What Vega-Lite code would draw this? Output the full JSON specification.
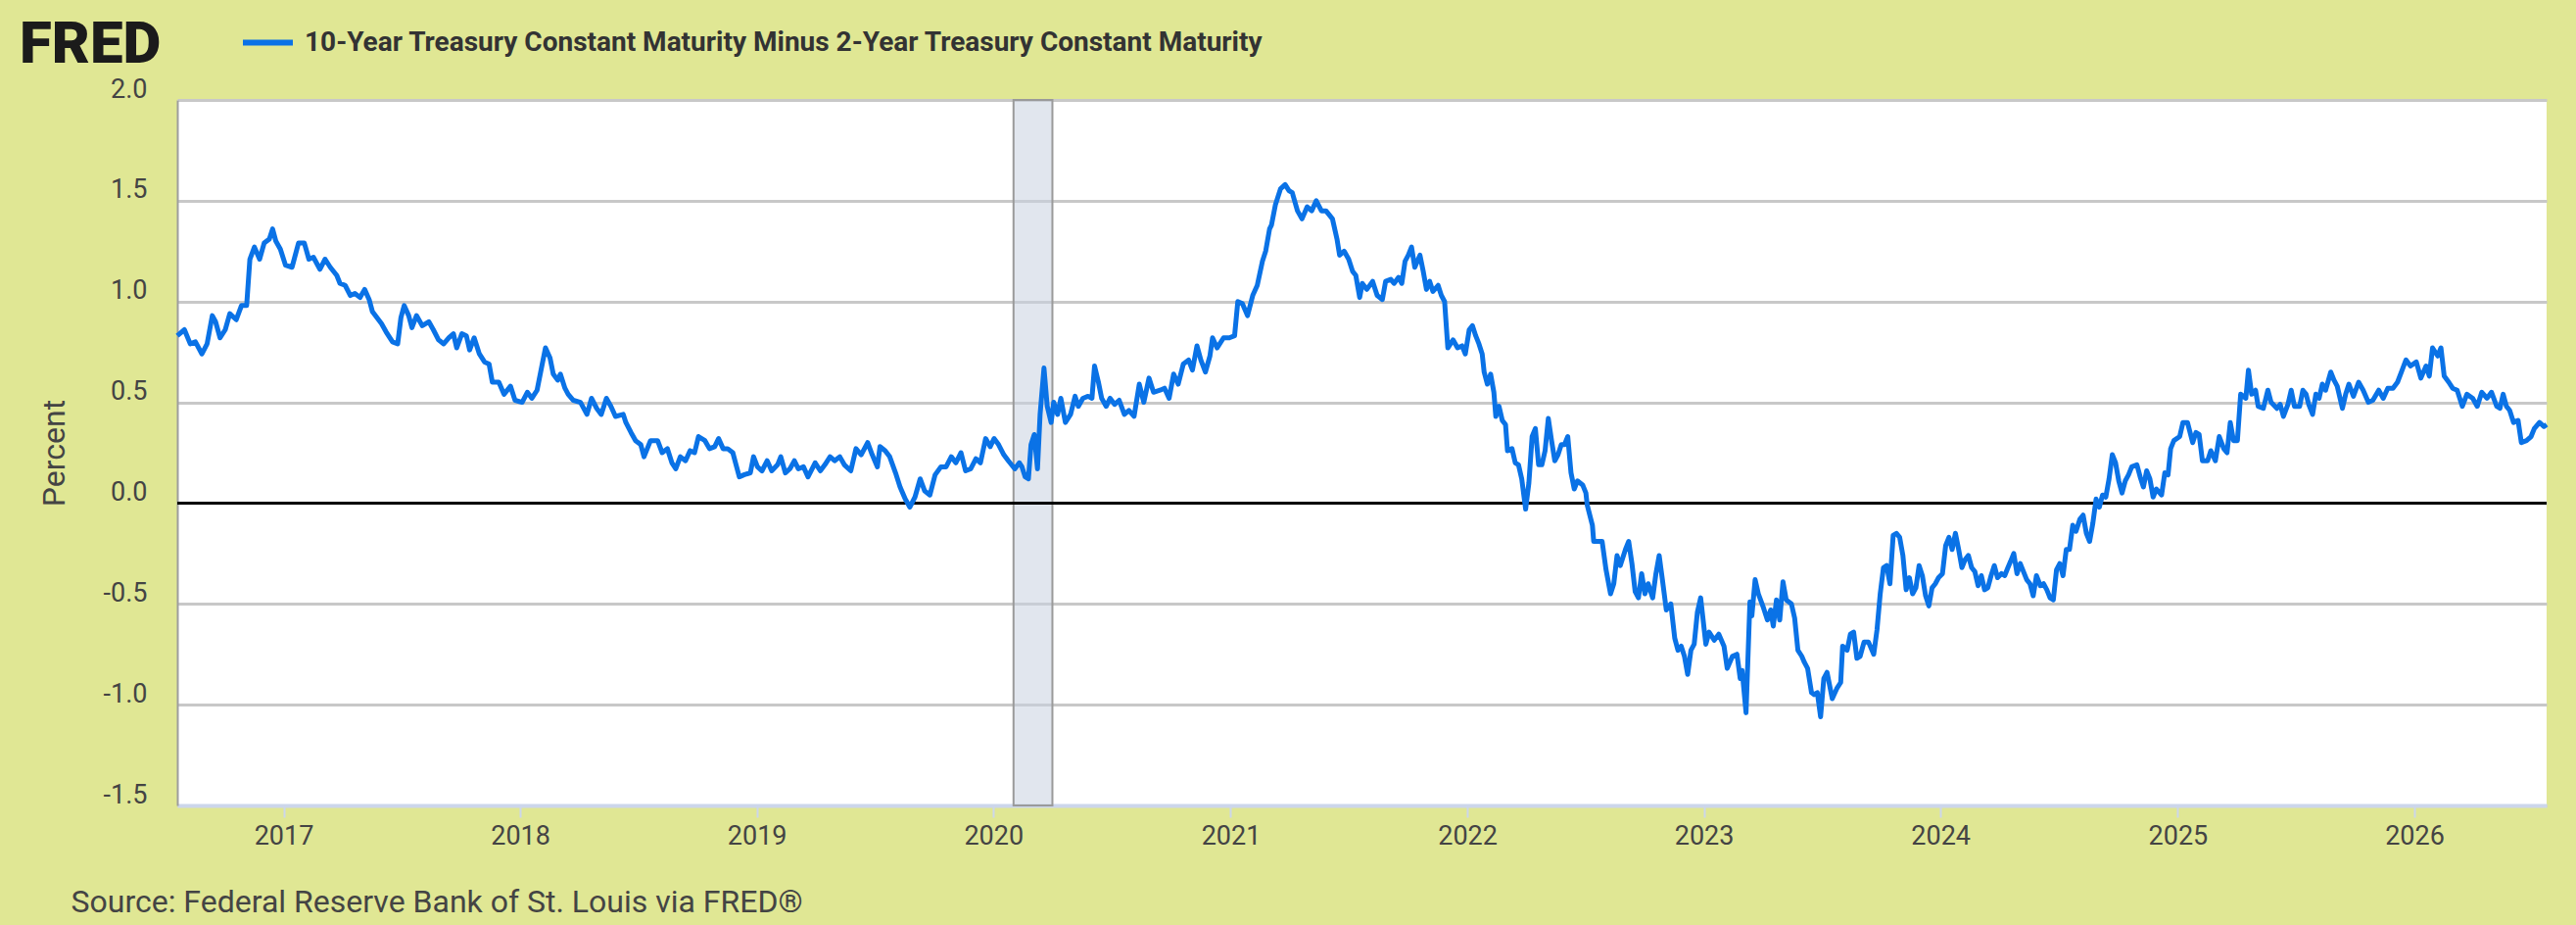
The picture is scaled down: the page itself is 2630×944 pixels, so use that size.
{
  "$schema": "https://vega.github.io/schema/vega-lite/v6.json",
  "width": 2419,
  "height": 720,
  "autosize": {"type": "none"},
  "padding": {"left": 181, "top": 102, "right": 30, "bottom": 122},
  "background": "#e0e794",
  "layer": [
    {
      "data": {"values": [{"date": "2020-02-01", "end": "2020-04-01"}]},
      "mark": {"type": "rect", "fill": "#c9d1e0", "fillOpacity": 0.55, "stroke": "#9a9a9a", "strokeWidth": 2},
      "encoding": {
        "x": {"field": "date", "type": "temporal", "title": "Source: Federal Reserve Bank of St. Louis via FRED®",
          "scale": {"type": "utc", "domain": [{"year": 2016, "month": 7, "date": 21, "utc": true}, {"year": 2026, "month": 7, "date": 24, "utc": true}]}},
        "x2": {"field": "end"}
      }
    },
    {
      "data": {"values": [{"level": 0}]},
      "mark": {"type": "rule", "color": "#000000", "strokeWidth": 3},
      "encoding": {
        "y": {"field": "level", "type": "quantitative", "title": "Percent", "scale": {"domain": [-1.5, 2], "nice": false, "zero": false}}
      }
    },
    {
      "data": {"values": [
        {"date": "2016-07-21", "value": 0.83}, {"date": "2016-08-01", "value": 0.86}, {"date": "2016-08-10", "value": 0.79}, {"date": "2016-08-18", "value": 0.80},
        {"date": "2016-08-28", "value": 0.74}, {"date": "2016-09-05", "value": 0.79}, {"date": "2016-09-13", "value": 0.93}, {"date": "2016-09-18", "value": 0.90},
        {"date": "2016-09-25", "value": 0.82}, {"date": "2016-10-03", "value": 0.86}, {"date": "2016-10-10", "value": 0.94}, {"date": "2016-10-20", "value": 0.91},
        {"date": "2016-10-28", "value": 0.98}, {"date": "2016-11-05", "value": 0.98}, {"date": "2016-11-10", "value": 1.21}, {"date": "2016-11-17", "value": 1.27},
        {"date": "2016-11-25", "value": 1.21}, {"date": "2016-12-02", "value": 1.29}, {"date": "2016-12-10", "value": 1.31}, {"date": "2016-12-15", "value": 1.36},
        {"date": "2016-12-20", "value": 1.30}, {"date": "2016-12-27", "value": 1.26}, {"date": "2017-01-04", "value": 1.18}, {"date": "2017-01-14", "value": 1.17},
        {"date": "2017-01-24", "value": 1.29}, {"date": "2017-02-02", "value": 1.29}, {"date": "2017-02-09", "value": 1.21}, {"date": "2017-02-16", "value": 1.22},
        {"date": "2017-02-26", "value": 1.16}, {"date": "2017-03-06", "value": 1.21}, {"date": "2017-03-14", "value": 1.17}, {"date": "2017-03-24", "value": 1.13},
        {"date": "2017-03-29", "value": 1.09}, {"date": "2017-04-06", "value": 1.08}, {"date": "2017-04-14", "value": 1.03}, {"date": "2017-04-21", "value": 1.04},
        {"date": "2017-04-29", "value": 1.02}, {"date": "2017-05-06", "value": 1.06}, {"date": "2017-05-13", "value": 1.01}, {"date": "2017-05-18", "value": 0.95},
        {"date": "2017-06-01", "value": 0.89}, {"date": "2017-06-08", "value": 0.85}, {"date": "2017-06-18", "value": 0.80}, {"date": "2017-06-26", "value": 0.79},
        {"date": "2017-07-01", "value": 0.92}, {"date": "2017-07-06", "value": 0.98}, {"date": "2017-07-13", "value": 0.93}, {"date": "2017-07-18", "value": 0.87},
        {"date": "2017-07-25", "value": 0.93}, {"date": "2017-08-03", "value": 0.88}, {"date": "2017-08-13", "value": 0.90}, {"date": "2017-08-20", "value": 0.86},
        {"date": "2017-08-28", "value": 0.81}, {"date": "2017-09-05", "value": 0.79}, {"date": "2017-09-13", "value": 0.82}, {"date": "2017-09-20", "value": 0.84},
        {"date": "2017-09-25", "value": 0.77}, {"date": "2017-10-03", "value": 0.84}, {"date": "2017-10-10", "value": 0.83}, {"date": "2017-10-15", "value": 0.76},
        {"date": "2017-10-22", "value": 0.82}, {"date": "2017-10-30", "value": 0.74}, {"date": "2017-11-07", "value": 0.70}, {"date": "2017-11-14", "value": 0.69},
        {"date": "2017-11-19", "value": 0.60}, {"date": "2017-11-29", "value": 0.60}, {"date": "2017-12-07", "value": 0.54}, {"date": "2017-12-17", "value": 0.58},
        {"date": "2017-12-24", "value": 0.51}, {"date": "2018-01-04", "value": 0.50}, {"date": "2018-01-12", "value": 0.55}, {"date": "2018-01-19", "value": 0.52},
        {"date": "2018-01-27", "value": 0.56}, {"date": "2018-02-04", "value": 0.69}, {"date": "2018-02-09", "value": 0.77}, {"date": "2018-02-16", "value": 0.72},
        {"date": "2018-02-21", "value": 0.64}, {"date": "2018-02-28", "value": 0.61}, {"date": "2018-03-04", "value": 0.64}, {"date": "2018-03-11", "value": 0.57},
        {"date": "2018-03-16", "value": 0.54}, {"date": "2018-03-24", "value": 0.51}, {"date": "2018-04-04", "value": 0.50}, {"date": "2018-04-14", "value": 0.44},
        {"date": "2018-04-21", "value": 0.52}, {"date": "2018-04-29", "value": 0.47}, {"date": "2018-05-06", "value": 0.44}, {"date": "2018-05-14", "value": 0.52},
        {"date": "2018-05-21", "value": 0.48}, {"date": "2018-05-28", "value": 0.43}, {"date": "2018-06-09", "value": 0.44}, {"date": "2018-06-13", "value": 0.40},
        {"date": "2018-06-21", "value": 0.35}, {"date": "2018-06-28", "value": 0.31}, {"date": "2018-07-06", "value": 0.29}, {"date": "2018-07-11", "value": 0.23},
        {"date": "2018-07-21", "value": 0.31}, {"date": "2018-08-01", "value": 0.31}, {"date": "2018-08-08", "value": 0.25}, {"date": "2018-08-16", "value": 0.27},
        {"date": "2018-08-23", "value": 0.20}, {"date": "2018-08-29", "value": 0.17}, {"date": "2018-09-05", "value": 0.23}, {"date": "2018-09-13", "value": 0.21},
        {"date": "2018-09-20", "value": 0.26}, {"date": "2018-09-27", "value": 0.25}, {"date": "2018-10-03", "value": 0.33}, {"date": "2018-10-13", "value": 0.31},
        {"date": "2018-10-20", "value": 0.27}, {"date": "2018-10-28", "value": 0.28}, {"date": "2018-11-03", "value": 0.32}, {"date": "2018-11-10", "value": 0.27},
        {"date": "2018-11-17", "value": 0.27}, {"date": "2018-11-25", "value": 0.25}, {"date": "2018-11-30", "value": 0.19}, {"date": "2018-12-05", "value": 0.13},
        {"date": "2018-12-12", "value": 0.14}, {"date": "2018-12-22", "value": 0.15}, {"date": "2018-12-27", "value": 0.23}, {"date": "2019-01-02", "value": 0.18},
        {"date": "2019-01-09", "value": 0.16}, {"date": "2019-01-17", "value": 0.21}, {"date": "2019-01-24", "value": 0.16}, {"date": "2019-02-02", "value": 0.19},
        {"date": "2019-02-07", "value": 0.23}, {"date": "2019-02-14", "value": 0.15}, {"date": "2019-02-21", "value": 0.17}, {"date": "2019-02-28", "value": 0.21},
        {"date": "2019-03-06", "value": 0.17}, {"date": "2019-03-14", "value": 0.18}, {"date": "2019-03-21", "value": 0.13}, {"date": "2019-04-01", "value": 0.20},
        {"date": "2019-04-09", "value": 0.16}, {"date": "2019-04-16", "value": 0.19}, {"date": "2019-04-24", "value": 0.23}, {"date": "2019-05-01", "value": 0.21},
        {"date": "2019-05-09", "value": 0.23}, {"date": "2019-05-16", "value": 0.19}, {"date": "2019-05-26", "value": 0.16}, {"date": "2019-06-03", "value": 0.27},
        {"date": "2019-06-11", "value": 0.24}, {"date": "2019-06-21", "value": 0.30}, {"date": "2019-06-28", "value": 0.24}, {"date": "2019-07-06", "value": 0.18},
        {"date": "2019-07-10", "value": 0.28}, {"date": "2019-07-18", "value": 0.26}, {"date": "2019-07-25", "value": 0.23}, {"date": "2019-08-03", "value": 0.15},
        {"date": "2019-08-10", "value": 0.08}, {"date": "2019-08-18", "value": 0.02}, {"date": "2019-08-25", "value": -0.02}, {"date": "2019-09-02", "value": 0.03},
        {"date": "2019-09-10", "value": 0.12}, {"date": "2019-09-17", "value": 0.06}, {"date": "2019-09-25", "value": 0.04}, {"date": "2019-10-03", "value": 0.14},
        {"date": "2019-10-12", "value": 0.18}, {"date": "2019-10-20", "value": 0.18}, {"date": "2019-10-28", "value": 0.23}, {"date": "2019-11-04", "value": 0.20},
        {"date": "2019-11-12", "value": 0.25}, {"date": "2019-11-19", "value": 0.16}, {"date": "2019-11-27", "value": 0.17}, {"date": "2019-12-05", "value": 0.22},
        {"date": "2019-12-12", "value": 0.20}, {"date": "2019-12-20", "value": 0.32}, {"date": "2019-12-27", "value": 0.28}, {"date": "2020-01-02", "value": 0.32},
        {"date": "2020-01-09", "value": 0.29}, {"date": "2020-01-17", "value": 0.24}, {"date": "2020-01-24", "value": 0.21}, {"date": "2020-02-03", "value": 0.17},
        {"date": "2020-02-10", "value": 0.20}, {"date": "2020-02-14", "value": 0.18}, {"date": "2020-02-19", "value": 0.13}, {"date": "2020-02-24", "value": 0.12},
        {"date": "2020-02-28", "value": 0.29}, {"date": "2020-03-04", "value": 0.34}, {"date": "2020-03-09", "value": 0.17}, {"date": "2020-03-13", "value": 0.44},
        {"date": "2020-03-19", "value": 0.67}, {"date": "2020-03-24", "value": 0.48}, {"date": "2020-03-30", "value": 0.40}, {"date": "2020-04-03", "value": 0.50},
        {"date": "2020-04-09", "value": 0.44}, {"date": "2020-04-14", "value": 0.52}, {"date": "2020-04-21", "value": 0.40}, {"date": "2020-04-29", "value": 0.44},
        {"date": "2020-05-06", "value": 0.53}, {"date": "2020-05-11", "value": 0.48}, {"date": "2020-05-18", "value": 0.52}, {"date": "2020-05-26", "value": 0.53},
        {"date": "2020-06-01", "value": 0.52}, {"date": "2020-06-05", "value": 0.68}, {"date": "2020-06-11", "value": 0.60}, {"date": "2020-06-16", "value": 0.52},
        {"date": "2020-06-23", "value": 0.48}, {"date": "2020-06-29", "value": 0.52}, {"date": "2020-07-06", "value": 0.49}, {"date": "2020-07-13", "value": 0.51},
        {"date": "2020-07-21", "value": 0.44}, {"date": "2020-07-28", "value": 0.46}, {"date": "2020-08-05", "value": 0.43}, {"date": "2020-08-13", "value": 0.59},
        {"date": "2020-08-20", "value": 0.50}, {"date": "2020-08-28", "value": 0.62}, {"date": "2020-09-04", "value": 0.55}, {"date": "2020-09-14", "value": 0.56},
        {"date": "2020-09-21", "value": 0.57}, {"date": "2020-09-28", "value": 0.52}, {"date": "2020-10-05", "value": 0.64}, {"date": "2020-10-12", "value": 0.59},
        {"date": "2020-10-20", "value": 0.69}, {"date": "2020-10-28", "value": 0.71}, {"date": "2020-11-03", "value": 0.66}, {"date": "2020-11-10", "value": 0.78},
        {"date": "2020-11-16", "value": 0.71}, {"date": "2020-11-23", "value": 0.65}, {"date": "2020-11-30", "value": 0.73}, {"date": "2020-12-04", "value": 0.82},
        {"date": "2020-12-11", "value": 0.77}, {"date": "2020-12-21", "value": 0.82}, {"date": "2020-12-30", "value": 0.82}, {"date": "2021-01-07", "value": 0.83},
        {"date": "2021-01-12", "value": 1.00}, {"date": "2021-01-19", "value": 0.99}, {"date": "2021-01-27", "value": 0.93}, {"date": "2021-02-04", "value": 1.03},
        {"date": "2021-02-11", "value": 1.08}, {"date": "2021-02-19", "value": 1.20}, {"date": "2021-02-24", "value": 1.25}, {"date": "2021-03-02", "value": 1.36},
        {"date": "2021-03-05", "value": 1.38}, {"date": "2021-03-11", "value": 1.48}, {"date": "2021-03-19", "value": 1.56}, {"date": "2021-03-26", "value": 1.58},
        {"date": "2021-04-01", "value": 1.55}, {"date": "2021-04-06", "value": 1.54}, {"date": "2021-04-14", "value": 1.45}, {"date": "2021-04-21", "value": 1.41},
        {"date": "2021-04-29", "value": 1.47}, {"date": "2021-05-06", "value": 1.45}, {"date": "2021-05-13", "value": 1.50}, {"date": "2021-05-21", "value": 1.45},
        {"date": "2021-05-28", "value": 1.45}, {"date": "2021-06-07", "value": 1.41}, {"date": "2021-06-14", "value": 1.31}, {"date": "2021-06-18", "value": 1.23},
        {"date": "2021-06-25", "value": 1.25}, {"date": "2021-07-02", "value": 1.21}, {"date": "2021-07-08", "value": 1.15}, {"date": "2021-07-13", "value": 1.13},
        {"date": "2021-07-19", "value": 1.02}, {"date": "2021-07-23", "value": 1.09}, {"date": "2021-07-30", "value": 1.06}, {"date": "2021-08-08", "value": 1.10},
        {"date": "2021-08-15", "value": 1.03}, {"date": "2021-08-23", "value": 1.01}, {"date": "2021-08-28", "value": 1.10}, {"date": "2021-09-05", "value": 1.11},
        {"date": "2021-09-10", "value": 1.09}, {"date": "2021-09-17", "value": 1.12}, {"date": "2021-09-22", "value": 1.09}, {"date": "2021-09-27", "value": 1.20},
        {"date": "2021-10-02", "value": 1.23}, {"date": "2021-10-07", "value": 1.27}, {"date": "2021-10-12", "value": 1.17}, {"date": "2021-10-20", "value": 1.23},
        {"date": "2021-10-25", "value": 1.15}, {"date": "2021-10-30", "value": 1.06}, {"date": "2021-11-04", "value": 1.10}, {"date": "2021-11-09", "value": 1.05},
        {"date": "2021-11-17", "value": 1.08}, {"date": "2021-11-22", "value": 1.03}, {"date": "2021-11-27", "value": 1.00}, {"date": "2021-12-02", "value": 0.77},
        {"date": "2021-12-10", "value": 0.81}, {"date": "2021-12-17", "value": 0.77}, {"date": "2021-12-24", "value": 0.78}, {"date": "2021-12-29", "value": 0.74},
        {"date": "2022-01-04", "value": 0.86}, {"date": "2022-01-09", "value": 0.88}, {"date": "2022-01-14", "value": 0.83}, {"date": "2022-01-19", "value": 0.79},
        {"date": "2022-01-24", "value": 0.74}, {"date": "2022-01-27", "value": 0.65}, {"date": "2022-02-01", "value": 0.59}, {"date": "2022-02-06", "value": 0.64},
        {"date": "2022-02-11", "value": 0.55}, {"date": "2022-02-14", "value": 0.43}, {"date": "2022-02-19", "value": 0.48}, {"date": "2022-02-24", "value": 0.41},
        {"date": "2022-03-01", "value": 0.39}, {"date": "2022-03-04", "value": 0.26}, {"date": "2022-03-11", "value": 0.27}, {"date": "2022-03-16", "value": 0.20},
        {"date": "2022-03-21", "value": 0.19}, {"date": "2022-03-26", "value": 0.12}, {"date": "2022-04-01", "value": -0.03}, {"date": "2022-04-06", "value": 0.10},
        {"date": "2022-04-11", "value": 0.33}, {"date": "2022-04-16", "value": 0.37}, {"date": "2022-04-21", "value": 0.19}, {"date": "2022-04-26", "value": 0.19},
        {"date": "2022-05-01", "value": 0.26}, {"date": "2022-05-06", "value": 0.42}, {"date": "2022-05-11", "value": 0.31}, {"date": "2022-05-16", "value": 0.21},
        {"date": "2022-05-21", "value": 0.24}, {"date": "2022-05-26", "value": 0.29}, {"date": "2022-05-31", "value": 0.29}, {"date": "2022-06-05", "value": 0.33},
        {"date": "2022-06-10", "value": 0.15}, {"date": "2022-06-15", "value": 0.07}, {"date": "2022-06-20", "value": 0.11}, {"date": "2022-06-28", "value": 0.09},
        {"date": "2022-07-03", "value": 0.05}, {"date": "2022-07-05", "value": -0.01}, {"date": "2022-07-13", "value": -0.11}, {"date": "2022-07-15", "value": -0.19},
        {"date": "2022-07-23", "value": -0.19}, {"date": "2022-07-28", "value": -0.19}, {"date": "2022-08-03", "value": -0.33}, {"date": "2022-08-10", "value": -0.45},
        {"date": "2022-08-15", "value": -0.40}, {"date": "2022-08-20", "value": -0.26}, {"date": "2022-08-25", "value": -0.31}, {"date": "2022-09-02", "value": -0.23},
        {"date": "2022-09-07", "value": -0.19}, {"date": "2022-09-12", "value": -0.30}, {"date": "2022-09-17", "value": -0.44}, {"date": "2022-09-22", "value": -0.47},
        {"date": "2022-09-27", "value": -0.35}, {"date": "2022-10-02", "value": -0.45}, {"date": "2022-10-07", "value": -0.40}, {"date": "2022-10-14", "value": -0.47},
        {"date": "2022-10-19", "value": -0.35}, {"date": "2022-10-24", "value": -0.26}, {"date": "2022-10-29", "value": -0.38}, {"date": "2022-11-04", "value": -0.53},
        {"date": "2022-11-11", "value": -0.50}, {"date": "2022-11-17", "value": -0.67}, {"date": "2022-11-22", "value": -0.73}, {"date": "2022-11-27", "value": -0.71},
        {"date": "2022-12-02", "value": -0.76}, {"date": "2022-12-07", "value": -0.85}, {"date": "2022-12-12", "value": -0.73}, {"date": "2022-12-17", "value": -0.70},
        {"date": "2022-12-22", "value": -0.54}, {"date": "2022-12-27", "value": -0.47}, {"date": "2023-01-04", "value": -0.70}, {"date": "2023-01-09", "value": -0.64},
        {"date": "2023-01-17", "value": -0.68}, {"date": "2023-01-24", "value": -0.65}, {"date": "2023-02-01", "value": -0.71}, {"date": "2023-02-06", "value": -0.82},
        {"date": "2023-02-14", "value": -0.76}, {"date": "2023-02-21", "value": -0.75}, {"date": "2023-02-26", "value": -0.87}, {"date": "2023-03-01", "value": -0.83},
        {"date": "2023-03-07", "value": -1.04}, {"date": "2023-03-13", "value": -0.49}, {"date": "2023-03-16", "value": -0.56}, {"date": "2023-03-21", "value": -0.38},
        {"date": "2023-03-26", "value": -0.45}, {"date": "2023-04-03", "value": -0.52}, {"date": "2023-04-09", "value": -0.58}, {"date": "2023-04-14", "value": -0.53},
        {"date": "2023-04-18", "value": -0.61}, {"date": "2023-04-23", "value": -0.48}, {"date": "2023-04-28", "value": -0.58}, {"date": "2023-05-03", "value": -0.39},
        {"date": "2023-05-08", "value": -0.48}, {"date": "2023-05-16", "value": -0.50}, {"date": "2023-05-21", "value": -0.57}, {"date": "2023-05-26", "value": -0.73},
        {"date": "2023-06-01", "value": -0.76}, {"date": "2023-06-05", "value": -0.79}, {"date": "2023-06-10", "value": -0.82}, {"date": "2023-06-16", "value": -0.94},
        {"date": "2023-06-20", "value": -0.95}, {"date": "2023-06-25", "value": -0.94}, {"date": "2023-06-30", "value": -1.06}, {"date": "2023-07-05", "value": -0.87},
        {"date": "2023-07-10", "value": -0.84}, {"date": "2023-07-18", "value": -0.97}, {"date": "2023-07-25", "value": -0.92}, {"date": "2023-07-31", "value": -0.89},
        {"date": "2023-08-03", "value": -0.71}, {"date": "2023-08-10", "value": -0.73}, {"date": "2023-08-15", "value": -0.65}, {"date": "2023-08-20", "value": -0.64},
        {"date": "2023-08-25", "value": -0.77}, {"date": "2023-08-30", "value": -0.76}, {"date": "2023-09-05", "value": -0.69}, {"date": "2023-09-12", "value": -0.69},
        {"date": "2023-09-20", "value": -0.75}, {"date": "2023-09-25", "value": -0.63}, {"date": "2023-09-30", "value": -0.45}, {"date": "2023-10-05", "value": -0.32},
        {"date": "2023-10-10", "value": -0.31}, {"date": "2023-10-15", "value": -0.40}, {"date": "2023-10-20", "value": -0.16}, {"date": "2023-10-25", "value": -0.15},
        {"date": "2023-10-30", "value": -0.17}, {"date": "2023-11-04", "value": -0.26}, {"date": "2023-11-09", "value": -0.43}, {"date": "2023-11-14", "value": -0.37},
        {"date": "2023-11-19", "value": -0.45}, {"date": "2023-11-24", "value": -0.42}, {"date": "2023-11-29", "value": -0.31}, {"date": "2023-12-04", "value": -0.36},
        {"date": "2023-12-09", "value": -0.46}, {"date": "2023-12-14", "value": -0.51}, {"date": "2023-12-19", "value": -0.42}, {"date": "2023-12-24", "value": -0.40},
        {"date": "2023-12-29", "value": -0.37}, {"date": "2024-01-04", "value": -0.35}, {"date": "2024-01-09", "value": -0.21}, {"date": "2024-01-14", "value": -0.17},
        {"date": "2024-01-19", "value": -0.23}, {"date": "2024-01-24", "value": -0.15}, {"date": "2024-01-29", "value": -0.23}, {"date": "2024-02-03", "value": -0.32},
        {"date": "2024-02-08", "value": -0.28}, {"date": "2024-02-13", "value": -0.26}, {"date": "2024-02-18", "value": -0.32}, {"date": "2024-02-23", "value": -0.34},
        {"date": "2024-02-28", "value": -0.41}, {"date": "2024-03-04", "value": -0.36}, {"date": "2024-03-09", "value": -0.43}, {"date": "2024-03-14", "value": -0.42},
        {"date": "2024-03-19", "value": -0.36}, {"date": "2024-03-24", "value": -0.31}, {"date": "2024-03-29", "value": -0.37}, {"date": "2024-04-04", "value": -0.35},
        {"date": "2024-04-09", "value": -0.36}, {"date": "2024-04-14", "value": -0.32}, {"date": "2024-04-18", "value": -0.29}, {"date": "2024-04-23", "value": -0.25},
        {"date": "2024-04-28", "value": -0.35}, {"date": "2024-05-03", "value": -0.30}, {"date": "2024-05-08", "value": -0.34}, {"date": "2024-05-13", "value": -0.38},
        {"date": "2024-05-18", "value": -0.40}, {"date": "2024-05-23", "value": -0.46}, {"date": "2024-05-28", "value": -0.36}, {"date": "2024-06-03", "value": -0.41},
        {"date": "2024-06-08", "value": -0.40}, {"date": "2024-06-13", "value": -0.43}, {"date": "2024-06-18", "value": -0.47}, {"date": "2024-06-23", "value": -0.48},
        {"date": "2024-06-28", "value": -0.33}, {"date": "2024-07-03", "value": -0.30}, {"date": "2024-07-08", "value": -0.36}, {"date": "2024-07-13", "value": -0.23},
        {"date": "2024-07-18", "value": -0.23}, {"date": "2024-07-23", "value": -0.11}, {"date": "2024-07-28", "value": -0.14}, {"date": "2024-08-03", "value": -0.08},
        {"date": "2024-08-08", "value": -0.06}, {"date": "2024-08-13", "value": -0.15}, {"date": "2024-08-18", "value": -0.19}, {"date": "2024-08-23", "value": -0.10},
        {"date": "2024-08-28", "value": 0.02}, {"date": "2024-09-02", "value": -0.02}, {"date": "2024-09-07", "value": 0.04}, {"date": "2024-09-12", "value": 0.03},
        {"date": "2024-09-17", "value": 0.12}, {"date": "2024-09-22", "value": 0.24}, {"date": "2024-09-27", "value": 0.20}, {"date": "2024-10-02", "value": 0.11},
        {"date": "2024-10-07", "value": 0.05}, {"date": "2024-10-12", "value": 0.11}, {"date": "2024-10-17", "value": 0.14}, {"date": "2024-10-22", "value": 0.18},
        {"date": "2024-10-30", "value": 0.19}, {"date": "2024-11-04", "value": 0.13}, {"date": "2024-11-09", "value": 0.08}, {"date": "2024-11-14", "value": 0.16},
        {"date": "2024-11-19", "value": 0.12}, {"date": "2024-11-24", "value": 0.03}, {"date": "2024-11-29", "value": 0.07}, {"date": "2024-12-07", "value": 0.04},
        {"date": "2024-12-12", "value": 0.15}, {"date": "2024-12-17", "value": 0.14}, {"date": "2024-12-21", "value": 0.27}, {"date": "2024-12-26", "value": 0.31},
        {"date": "2025-01-04", "value": 0.33}, {"date": "2025-01-09", "value": 0.40}, {"date": "2025-01-16", "value": 0.40}, {"date": "2025-01-24", "value": 0.30},
        {"date": "2025-01-29", "value": 0.35}, {"date": "2025-02-03", "value": 0.34}, {"date": "2025-02-08", "value": 0.21}, {"date": "2025-02-16", "value": 0.21},
        {"date": "2025-02-21", "value": 0.26}, {"date": "2025-02-28", "value": 0.21}, {"date": "2025-03-06", "value": 0.33}, {"date": "2025-03-13", "value": 0.27},
        {"date": "2025-03-18", "value": 0.25}, {"date": "2025-03-23", "value": 0.40}, {"date": "2025-03-28", "value": 0.31}, {"date": "2025-04-03", "value": 0.31},
        {"date": "2025-04-08", "value": 0.54}, {"date": "2025-04-16", "value": 0.52}, {"date": "2025-04-20", "value": 0.66}, {"date": "2025-04-25", "value": 0.54},
        {"date": "2025-05-01", "value": 0.56}, {"date": "2025-05-05", "value": 0.48}, {"date": "2025-05-13", "value": 0.47}, {"date": "2025-05-20", "value": 0.56},
        {"date": "2025-05-25", "value": 0.50}, {"date": "2025-06-03", "value": 0.47}, {"date": "2025-06-08", "value": 0.49}, {"date": "2025-06-13", "value": 0.43},
        {"date": "2025-06-20", "value": 0.49}, {"date": "2025-06-25", "value": 0.56}, {"date": "2025-06-30", "value": 0.48}, {"date": "2025-07-08", "value": 0.48},
        {"date": "2025-07-13", "value": 0.56}, {"date": "2025-07-18", "value": 0.54}, {"date": "2025-07-22", "value": 0.49}, {"date": "2025-07-28", "value": 0.44},
        {"date": "2025-08-02", "value": 0.54}, {"date": "2025-08-07", "value": 0.52}, {"date": "2025-08-12", "value": 0.59}, {"date": "2025-08-17", "value": 0.56},
        {"date": "2025-08-25", "value": 0.65}, {"date": "2025-08-30", "value": 0.61}, {"date": "2025-09-04", "value": 0.58}, {"date": "2025-09-12", "value": 0.47},
        {"date": "2025-09-17", "value": 0.54}, {"date": "2025-09-22", "value": 0.59}, {"date": "2025-09-29", "value": 0.53}, {"date": "2025-10-07", "value": 0.60},
        {"date": "2025-10-14", "value": 0.56}, {"date": "2025-10-22", "value": 0.50}, {"date": "2025-10-29", "value": 0.51}, {"date": "2025-11-07", "value": 0.56},
        {"date": "2025-11-14", "value": 0.52}, {"date": "2025-11-21", "value": 0.57}, {"date": "2025-11-29", "value": 0.57}, {"date": "2025-12-06", "value": 0.60},
        {"date": "2025-12-12", "value": 0.65}, {"date": "2025-12-19", "value": 0.71}, {"date": "2025-12-26", "value": 0.68}, {"date": "2026-01-04", "value": 0.70},
        {"date": "2026-01-11", "value": 0.62}, {"date": "2026-01-19", "value": 0.68}, {"date": "2026-01-24", "value": 0.63}, {"date": "2026-01-29", "value": 0.77},
        {"date": "2026-02-06", "value": 0.73}, {"date": "2026-02-11", "value": 0.77}, {"date": "2026-02-16", "value": 0.63}, {"date": "2026-02-23", "value": 0.60},
        {"date": "2026-03-01", "value": 0.57}, {"date": "2026-03-08", "value": 0.56}, {"date": "2026-03-16", "value": 0.48}, {"date": "2026-03-23", "value": 0.54},
        {"date": "2026-04-01", "value": 0.52}, {"date": "2026-04-08", "value": 0.48}, {"date": "2026-04-15", "value": 0.55}, {"date": "2026-04-23", "value": 0.52},
        {"date": "2026-04-30", "value": 0.55}, {"date": "2026-05-08", "value": 0.48}, {"date": "2026-05-13", "value": 0.47}, {"date": "2026-05-18", "value": 0.54},
        {"date": "2026-05-23", "value": 0.48}, {"date": "2026-05-28", "value": 0.46}, {"date": "2026-06-03", "value": 0.40}, {"date": "2026-06-10", "value": 0.41},
        {"date": "2026-06-15", "value": 0.30}, {"date": "2026-06-23", "value": 0.31}, {"date": "2026-06-30", "value": 0.33}, {"date": "2026-07-05", "value": 0.37},
        {"date": "2026-07-13", "value": 0.40}, {"date": "2026-07-20", "value": 0.38}, {"date": "2026-07-24", "value": 0.39}
      ]},
      "mark": {"type": "line", "strokeWidth": 5, "strokeJoin": "round"},
      "encoding": {
        "x": {
          "field": "date",
          "type": "temporal",
          "scale": {"type": "utc", "domain": [{"year": 2016, "month": 7, "date": 21, "utc": true}, {"year": 2026, "month": 7, "date": 24, "utc": true}]},
          "axis": {
            "values": [
              {"year": 2017, "utc": true}, {"year": 2018, "utc": true}, {"year": 2019, "utc": true}, {"year": 2020, "utc": true}, {"year": 2021, "utc": true},
              {"year": 2022, "utc": true}, {"year": 2023, "utc": true}, {"year": 2024, "utc": true}, {"year": 2025, "utc": true}, {"year": 2026, "utc": true}
            ],
            "format": "%Y",
            "formatType": "utc",
            "grid": false,
            "domainColor": "#ccd6eb",
            "domainWidth": 4,
            "tickColor": "#ccd6eb",
            "tickWidth": 2,
            "tickSize": 12,
            "labelFontSize": 27,
            "labelPadding": 6,
            "labelFlush": false,
            "labelOverlap": false,
            "titleFontSize": 32,
            "titleAnchor": "start",
            "titleAlign": "left",
            "titleBaseline": "middle",
            "titleX": -109,
            "titleY": 98
          },
          "title": "Source: Federal Reserve Bank of St. Louis via FRED®"
        },
        "y": {
          "field": "value",
          "type": "quantitative",
          "title": "Percent",
          "scale": {"domain": [-1.5, 2], "nice": false, "zero": false},
          "axis": {
            "values": [-1.5, -1, -0.5, 0, 0.5, 1, 1.5, 2],
            "labelExpr": "replace(format(datum.value, '.1f'), '\u2212', '-')",
            "grid": true,
            "gridColor": "#c8c8c8",
            "gridWidth": 3,
            "domainColor": "#9e9e9e",
            "domainWidth": 2,
            "ticks": false,
            "labelPadding": 31,
            "labelFontSize": 27,
            "labelBaseline": "alphabetic",
            "labelOffset": -3,
            "titleFontSize": 32,
            "titleAngle": -90,
            "titleAlign": "center",
            "titleBaseline": "alphabetic",
            "titleX": -116,
            "titleY": 360
          }
        },
        "color": {
          "datum": "10-Year Treasury Constant Maturity Minus 2-Year Treasury Constant Maturity",
          "type": "nominal",
          "scale": {"range": ["#0a72e6"]},
          "legend": {
            "orient": "none",
            "legendX": -161,
            "legendY": -87,
            "padding": 0,
            "title": "FRED",
            "titleOrient": "left",
            "titleFont": "Roboto",
            "titleFontSize": 60,
            "titleFontWeight": 900,
            "titleColor": "#1b1b1b",
            "titleBaseline": "line-top",
            "titleLineHeight": 22,
            "titlePadding": 80,
            "titleLimit": 0,
            "symbolType": "stroke",
            "symbolStrokeWidth": 6,
            "symbolSize": 2600,
            "labelFont": "Roboto",
            "labelFontWeight": "bold",
            "labelFontSize": 28,
            "labelColor": "#333333",
            "labelLimit": 0,
            "labelOffset": 9
          }
        }
      }
    }
  ],
  "config": {
    "view": {"stroke": null, "fill": "#ffffff"},
    "font": "Roboto",
    "axis": {
      "labelFont": "Roboto",
      "titleFont": "Roboto",
      "labelColor": "#444444",
      "titleColor": "#444444",
      "titleFontWeight": "normal"
    }
  }
}
